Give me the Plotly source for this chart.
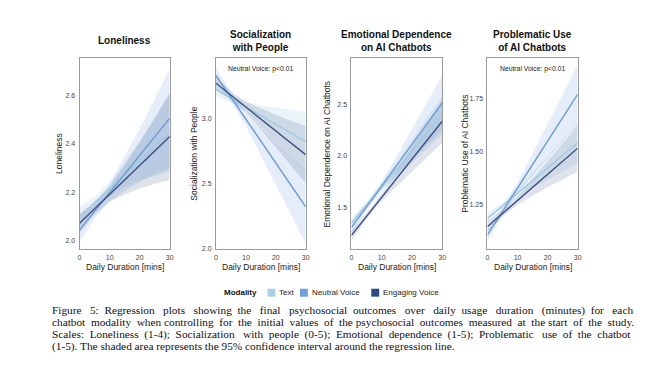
import plotly.graph_objects as go

W, H = 650, 385

# ---------------- data ----------------
modalities = ["Text", "Neutral Voice", "Engaging Voice"]
line_colors = ["#9ecae1", "#6b9bd6", "#3b5185"]
swatch_colors = ["#a6cfe6", "#6fa0dc", "#2f4b87"]
band_colors = ["rgba(158,202,225,0.22)", "rgba(107,155,214,0.18)", "rgba(59,81,133,0.16)"]

panel_titles = ["Loneliness", "Socialization<br>with People",
                "Emotional Dependence<br>on AI Chatbots", "Problematic Use<br>of AI Chatbots"]
y_titles = ["Loneliness", "Socialization with People",
            "Emotional Dependence on AI Chatbots", "Problematic Use of AI Chatbots"]
y_ranges = [[1.966, 2.754], [1.995, 3.465], [1.09, 2.96], [1.039, 1.942]]
y_tickvals = [[2.0, 2.2, 2.4, 2.6], [2.0, 2.5, 3.0], [1.5, 2.0, 2.5], [1.25, 1.50, 1.75]]
y_ticktext = [["2.0", "2.2", "2.4", "2.6"], ["2.0", "2.5", "3.0"], ["1.5", "2.0", "2.5"],
              ["1.25", "1.50", "1.75"]]
x_tickvals = [0, 10, 20, 30]
p_notes = ["", "Neutral Voice: p&lt;0.01", "", "Neutral Voice: p&lt;0.01"]

x_line = [0, 30]
x_ci = [0, 5, 10, 15, 20, 25, 30]

# regression line end values (x=0, x=30), order: Text, Neutral, Engaging
lone_lines = [[2.100, 2.445], [2.045, 2.505], [2.072, 2.430]]
soc_lines = [[3.22, 2.82], [3.33, 2.32], [3.27, 2.72]]
emo_lines = [[1.345, 2.400], [1.300, 2.520], [1.225, 2.340]]
prob_lines = [[1.184, 1.540], [1.106, 1.770], [1.145, 1.515]]

# 95% CI bands at x_ci
lone_lo = [[2.060, 2.132, 2.185, 2.222, 2.250, 2.267, 2.285],
           [1.995, 2.092, 2.163, 2.205, 2.242, 2.273, 2.300],
           [2.032, 2.107, 2.161, 2.191, 2.216, 2.235, 2.250]]
lone_hi = [[2.140, 2.182, 2.245, 2.322, 2.410, 2.507, 2.605],
           [2.095, 2.152, 2.233, 2.345, 2.462, 2.583, 2.710],
           [2.112, 2.157, 2.221, 2.311, 2.406, 2.505, 2.610]]
soc_lo = [[3.170, 3.123, 3.047, 2.940, 2.823, 2.707, 2.590],
          [3.270, 3.127, 2.943, 2.725, 2.497, 2.268, 2.040],
          [3.220, 3.148, 3.047, 2.915, 2.778, 2.642, 2.500]]
soc_hi = [[3.270, 3.183, 3.127, 3.100, 3.083, 3.067, 3.050],
          [3.390, 3.197, 3.043, 2.925, 2.817, 2.708, 2.600],
          [3.320, 3.208, 3.127, 3.075, 3.028, 2.982, 2.940]]
emo_lo = [[1.295, 1.491, 1.662, 1.803, 1.938, 2.074, 2.210],
          [1.240, 1.468, 1.662, 1.820, 1.963, 2.107, 2.250],
          [1.175, 1.381, 1.562, 1.708, 1.848, 1.989, 2.130]]
emo_hi = [[1.395, 1.551, 1.732, 1.943, 2.158, 2.374, 2.590],
          [1.360, 1.538, 1.752, 2.000, 2.263, 2.527, 2.790],
          [1.275, 1.441, 1.632, 1.858, 2.088, 2.319, 2.550]]
prob_lo = [[1.159, 1.228, 1.283, 1.327, 1.366, 1.406, 1.445],
           [1.076, 1.197, 1.302, 1.388, 1.469, 1.549, 1.630],
           [1.120, 1.192, 1.248, 1.290, 1.332, 1.368, 1.405]]
prob_hi = [[1.209, 1.258, 1.323, 1.397, 1.476, 1.556, 1.635],
           [1.136, 1.237, 1.352, 1.488, 1.629, 1.769, 1.910],
           [1.170, 1.222, 1.288, 1.370, 1.452, 1.538, 1.625]]

caption_lines = [
    "Figure 5: Regression plots showing the final psychosocial outcomes over daily usage duration (minutes) for each",
    "chatbot modality when controlling for the initial values of the psychosocial outcomes measured at the start of the study.",
    "Scales: Loneliness (1-4); Socialization with people (0-5); Emotional dependence (1-5); Problematic use of the chatbot",
    "(1-5). The shaded area represents the 95% confidence interval around the regression line.",
]
# extra non-breaking spaces used to justify each caption line
caption_extra_spaces = [25, 15, 16, 0]

# ---------------- layout geometry (pixels) ----------------
box_left = [78.3, 216.0, 352.7, 490.0]
box_right = [169.3, 306.5, 444.3, 581.0]
box_top, box_bottom = 58.3, 251.0
ytitle_x = [58.0, 194.0, 328.0, 467.5]


def px(x):
    return x / W


def py(y):
    return 1 - y / H


def justify(text, n_extra):
    words = text.split(" ")
    gaps = len(words) - 1
    if n_extra <= 0 or gaps <= 0:
        return text
    out = words[0]
    given = 0
    for i in range(1, len(words)):
        target = round(n_extra * i / gaps)
        k = target - given
        given = target
        out += " " + "\u00a0" * k + words[i]
    return out


SANS = "Liberation Sans, Arial, Helvetica, sans-serif"
SERIF = "Liberation Serif, Times New Roman, serif"

fig = go.Figure()
all_lines = [lone_lines, soc_lines, emo_lines, prob_lines]
all_lo = [lone_lo, soc_lo, emo_lo, prob_lo]
all_hi = [lone_hi, soc_hi, emo_hi, prob_hi]

annotations = []
for p in range(4):
    xa = "x" if p == 0 else f"x{p+1}"
    ya = "y" if p == 0 else f"y{p+1}"
    for m in range(3):
        lo, hi = all_lo[p][m], all_hi[p][m]
        fig.add_trace(go.Scatter(
            x=x_ci + x_ci[::-1], y=hi + lo[::-1], fill="toself",
            fillcolor=band_colors[m], line=dict(width=0), mode="lines",
            hoverinfo="skip", showlegend=False, xaxis=xa, yaxis=ya))
    for m in range(3):
        fig.add_trace(go.Scatter(
            x=x_line, y=all_lines[p][m], mode="lines",
            line=dict(color=line_colors[m], width=1.4),
            name=modalities[m], showlegend=False, xaxis=xa, yaxis=ya))

    axis_common = dict(showline=True, mirror=True, linecolor="#9a9a9a", linewidth=1,
                       showgrid=False, zeroline=False, ticks="outside", ticklen=2,
                       tickcolor="rgba(0,0,0,0)",
                       tickfont=dict(family=SANS, size=7, color="#444"))
    xkey = "xaxis" if p == 0 else f"xaxis{p+1}"
    ykey = "yaxis" if p == 0 else f"yaxis{p+1}"
    fig.update_layout({
        xkey: dict(domain=[px(box_left[p]), px(box_right[p])], range=[0, 30],
                   tickvals=x_tickvals, anchor=ya, **axis_common),
        ykey: dict(domain=[py(box_bottom), py(box_top)], range=y_ranges[p],
                   tickvals=y_tickvals[p], ticktext=y_ticktext[p], anchor=xa, **axis_common),
    })
    cx = (box_left[p] + box_right[p]) / 2
    annotations.append(dict(x=px(cx), y=py(41), xref="paper", yref="paper",
                            text=f"<b>{panel_titles[p]}</b>", showarrow=False,
                            xanchor="center", yanchor="middle",
                            font=dict(family=SANS, size=10, color="#111")))
    annotations.append(dict(x=px(cx), y=py(269), xref="paper", yref="paper",
                            text="Daily Duration [mins]", showarrow=False,
                            xanchor="center", yanchor="middle",
                            font=dict(family=SANS, size=8.5, color="#222")))
    annotations.append(dict(x=px(ytitle_x[p]), y=py((box_top + box_bottom) / 2),
                            xref="paper", yref="paper", text=y_titles[p], textangle=-90,
                            showarrow=False, xanchor="center", yanchor="middle",
                            font=dict(family=SANS, size=8.5, color="#222")))
    if p_notes[p]:
        annotations.append(dict(x=px(cx), y=py(69.5), xref="paper", yref="paper",
                                text=p_notes[p], showarrow=False,
                                xanchor="center", yanchor="middle",
                                font=dict(family=SANS, size=6.8, color="#222")))

# legend (manual)
shapes = []
legend_y = 295
annotations.append(dict(x=px(222.5), y=py(legend_y), xref="paper", yref="paper",
                        text="<b>Modality</b>", showarrow=False, xanchor="left",
                        yanchor="middle", font=dict(family=SANS, size=8, color="#111")))
sw_x = [268.0, 300.7, 372.7]
for m in range(3):
    shapes.append(dict(type="rect", xref="paper", yref="paper",
                       x0=px(sw_x[m]), x1=px(sw_x[m] + 8), y0=py(legend_y + 4), y1=py(legend_y - 4),
                       fillcolor=swatch_colors[m], line=dict(width=0)))
    annotations.append(dict(x=px(sw_x[m] + 10), y=py(legend_y), xref="paper", yref="paper",
                            text=modalities[m], showarrow=False, xanchor="left",
                            yanchor="middle", font=dict(family=SANS, size=8, color="#222")))

# caption
cap_y = [313, 325, 337, 349]
for i, t in enumerate(caption_lines):
    annotations.append(dict(x=px(48), y=py(cap_y[i]), xref="paper", yref="paper",
                            text=justify(t, caption_extra_spaces[i]), showarrow=False,
                            xanchor="left", yanchor="middle",
                            font=dict(family=SERIF, size=11.3, color="#111")))

fig.update_layout(width=W, height=H, margin=dict(l=0, r=0, t=0, b=0),
                  paper_bgcolor="white", plot_bgcolor="white",
                  annotations=annotations, shapes=shapes, showlegend=False)

fig.write_html("out.html", config={"displayModeBar": False},
               post_script="document.body.style.margin='0px';document.body.style.padding='0px';")
